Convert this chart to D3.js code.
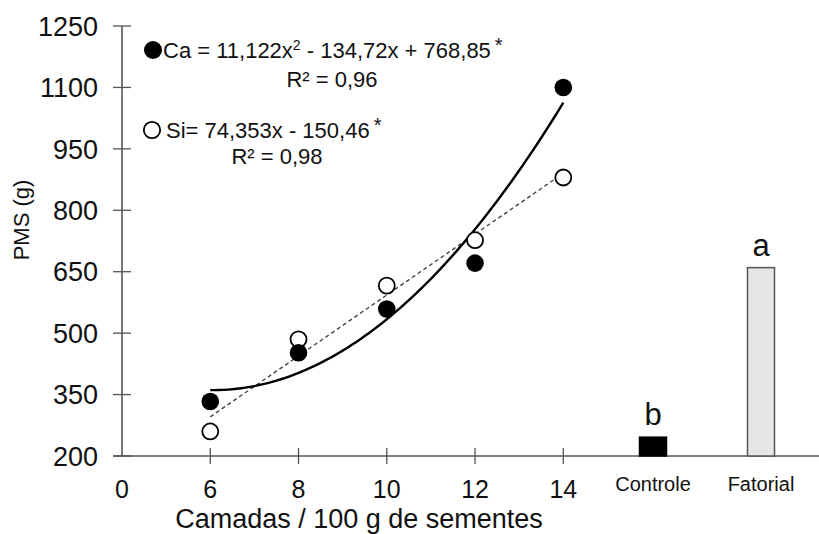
<!DOCTYPE html>
<html>
<head>
<meta charset="utf-8">
<script src="https://cdn.jsdelivr.net/npm/d3@7"></script>
<style>
  body { margin: 0; background: #fff; }
  svg { font-family: "Liberation Sans", Arial, sans-serif; }
</style>
</head>
<body>
<div id="chart"></div>
<script>
// data
const camadas = [6, 8, 10, 12, 14];
const caValues = [333, 452, 559, 671, 1100];
const siValues = [260, 485, 616, 727, 880];
const categories = ['Controle', 'Fatorial'];
const barValues = [246, 660];
const barLetters = ['b', 'a'];
const caCoef = [11.122, -134.72, 768.85]; // x², x, c
const siCoef = [74.353, -150.46];         // x, c
const yTicks = [200, 350, 500, 650, 800, 950, 1100, 1250];
const xTicks = [4, 6, 8, 10, 12, 14]; // first tick is drawn as "0" (broken axis)

const width = 819, height = 534;
const axisColor = '#555';

const svg = d3.select('#chart').append('svg')
  .attr('width', width)
  .attr('height', height);

const x = d3.scaleLinear().domain([4, 14]).range([122, 563.3]);
const xCat = d3.scalePoint().domain(categories).range([653, 761]);
const y = d3.scaleLinear().domain([200, 1250]).range([456, 26]);

// y axis
const yAxis = svg.append('g').attr('transform', `translate(${x(4)},0)`);
yAxis.append('line')
  .attr('y1', y(200)).attr('y2', y(1250))
  .attr('stroke', axisColor).attr('stroke-width', 1.6);
yAxis.selectAll('.yt').data(yTicks).enter().append('line')
  .attr('x1', -9).attr('x2', 9)
  .attr('y1', d => y(d)).attr('y2', d => y(d))
  .attr('stroke', axisColor).attr('stroke-width', 1.3);
yAxis.selectAll('.yl').data(yTicks).enter().append('text')
  .attr('x', -24).attr('y', d => y(d))
  .attr('dy', '0.36em')
  .attr('text-anchor', 'end')
  .attr('font-size', 27)
  .attr('fill', '#111')
  .text(d => d);

// x axis
const xAxis = svg.append('g').attr('transform', `translate(0,${y(200)})`);
xAxis.append('line')
  .attr('x1', x(4) - 9).attr('x2', width)
  .attr('stroke', axisColor).attr('stroke-width', 1.6);
xAxis.selectAll('.xt').data(xTicks.slice(1)).enter().append('line')
  .attr('x1', d => x(d)).attr('x2', d => x(d))
  .attr('y1', -8).attr('y2', 8)
  .attr('stroke', axisColor).attr('stroke-width', 1.3);
xAxis.selectAll('.xl').data(xTicks).enter().append('text')
  .attr('x', d => x(d)).attr('y', 42)
  .attr('text-anchor', 'middle')
  .attr('font-size', 25)
  .attr('fill', '#111')
  .text(d => d === 4 ? '0' : d);
xAxis.selectAll('.cl').data(categories).enter().append('text')
  .attr('x', d => xCat(d)).attr('y', 35)
  .attr('text-anchor', 'middle')
  .attr('font-size', 20)
  .attr('fill', '#111')
  .text(d => d);

// axis titles
svg.append('text')
  .attr('x', 359).attr('y', 528)
  .attr('text-anchor', 'middle')
  .attr('font-size', 27)
  .attr('fill', '#111')
  .text('Camadas / 100 g de sementes');
svg.append('text')
  .attr('transform', 'translate(29,220) rotate(-90)')
  .attr('text-anchor', 'middle')
  .attr('font-size', 22)
  .attr('fill', '#111')
  .text('PMS (g)');

// bars
const barW = 27;
svg.selectAll('.bar').data(categories).enter().append('rect')
  .attr('x', d => xCat(d) - barW / 2)
  .attr('y', (d, i) => y(barValues[i]))
  .attr('width', barW)
  .attr('height', (d, i) => y(200) - y(barValues[i]))
  .attr('fill', (d, i) => i === 0 ? '#000' : '#e6e6e6')
  .attr('stroke', (d, i) => i === 0 ? '#000' : axisColor)
  .attr('stroke-width', 1.5);
svg.selectAll('.letter').data(categories).enter().append('text')
  .attr('x', d => xCat(d))
  .attr('y', (d, i) => y(barValues[i]) - 12)
  .attr('text-anchor', 'middle')
  .attr('font-size', 31)
  .attr('fill', '#111')
  .text((d, i) => barLetters[i]);

// fitted curves
const fitX = d3.range(6, 14.001, 0.1);
const caFit = v => caCoef[0] * v * v + caCoef[1] * v + caCoef[2];
const siFit = v => siCoef[0] * v + siCoef[1];
const line = d3.line().x(d => x(d[0])).y(d => y(d[1]));

svg.append('path')
  .datum(fitX.map(v => [v, siFit(v)]))
  .attr('d', line)
  .attr('fill', 'none')
  .attr('stroke', '#444')
  .attr('stroke-width', 1.4)
  .attr('stroke-dasharray', '4,3');
svg.append('path')
  .datum(fitX.map(v => [v, caFit(v)]))
  .attr('d', line)
  .attr('fill', 'none')
  .attr('stroke', '#000')
  .attr('stroke-width', 2.4);

// points
const r = 8.8;
svg.selectAll('.si').data(camadas).enter().append('circle')
  .attr('cx', d => x(d)).attr('cy', (d, i) => y(siValues[i]))
  .attr('r', r - 0.8)
  .attr('fill', '#fff').attr('stroke', '#000').attr('stroke-width', 1.8);
svg.selectAll('.ca').data(camadas).enter().append('circle')
  .attr('cx', d => x(d)).attr('cy', (d, i) => y(caValues[i]))
  .attr('r', r)
  .attr('fill', '#000');

// equations
const eq = svg.append('g').attr('font-size', 22).attr('fill', '#111');
eq.append('circle').attr('cx', 153).attr('cy', 50).attr('r', 9).attr('fill', '#000');
const caText = eq.append('text').attr('x', 163).attr('y', 58);
caText.append('tspan').text('Ca = 11,122x');
caText.append('tspan').attr('font-size', 14).attr('dy', -8).text('2');
caText.append('tspan').attr('dy', 8).text(' - 134,72x + 768,85');
caText.append('tspan').attr('font-size', 20).attr('dx', 4).attr('dy', -6).text('*');
eq.append('text').attr('x', 332).attr('y', 87).attr('text-anchor', 'middle').text('R² = 0,96');

eq.append('circle').attr('cx', 152).attr('cy', 130).attr('r', 8.2)
  .attr('fill', '#fff').attr('stroke', '#000').attr('stroke-width', 1.8);
const siText = eq.append('text').attr('x', 166).attr('y', 138);
siText.append('tspan').text('Si= 74,353x - 150,46');
siText.append('tspan').attr('font-size', 20).attr('dx', 4).attr('dy', -6).text('*');
eq.append('text').attr('x', 277).attr('y', 164).attr('text-anchor', 'middle').text('R² = 0,98');
</script>
</body>
</html>
